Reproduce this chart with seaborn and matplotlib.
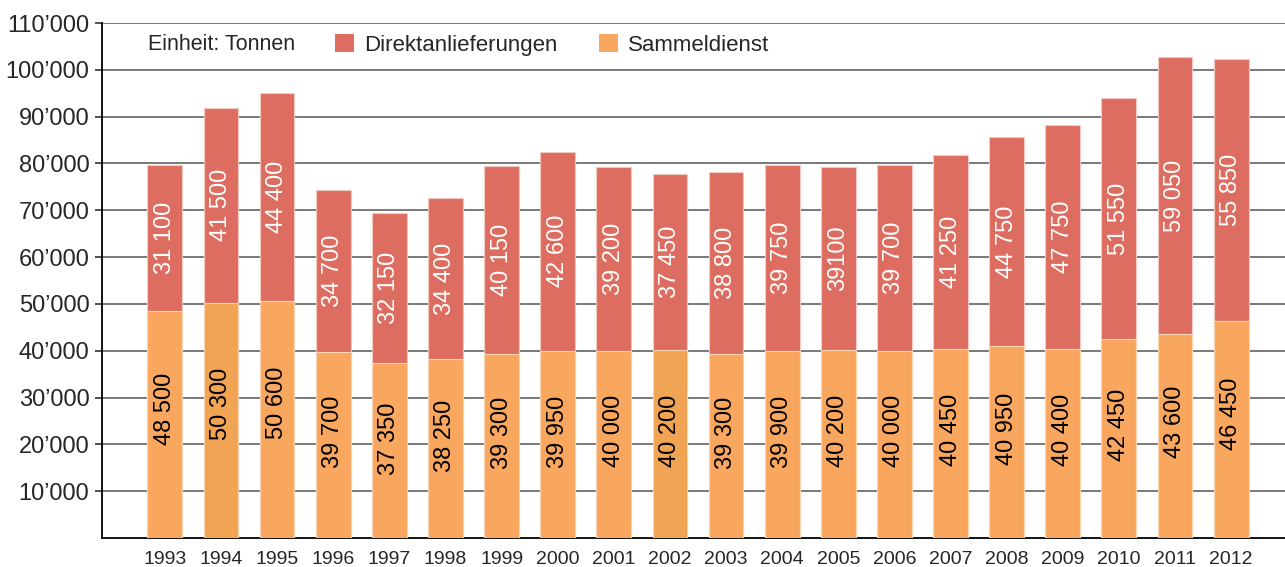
import numpy as np
import pandas as pd
import matplotlib
matplotlib.use("Agg")
import matplotlib.pyplot as plt
from matplotlib.patches import Patch
import seaborn as sns

years = [str(y) for y in range(1993, 2013)]
sammeldienst = [48500, 50300, 50600, 39700, 37350, 38250, 39300, 39950, 40000, 40200,
                39300, 39900, 40200, 40000, 40450, 40950, 40400, 42450, 43600, 46450]
direkt = [31100, 41500, 44400, 34700, 32150, 34400, 40150, 42600, 39200, 37450,
          38800, 39750, 39100, 39700, 41250, 44750, 47750, 51550, 59050, 55850]
direkt_text = ["31 100", "41 500", "44 400", "34 700", "32 150", "34 400", "40 150", "42 600",
               "39 200", "37 450", "38 800", "39 750", "39100", "39 700", "41 250", "44 750",
               "47 750", "51 550", "59 050", "55 850"]
highlight = ["1994", "2002"]

RED = "#DE6D61"
ORANGE = "#F9A75F"
ORANGE_DARK = "#F0A454"

df = pd.DataFrame({"year": years, "sammel": sammeldienst, "direkt": direkt})
df["total"] = df["sammel"] + df["direkt"]

sns.set_style("white")
plt.rcParams["font.family"] = ["Liberation Sans", "DejaVu Sans"]

fig = plt.figure(figsize=(12.85, 5.67), dpi=100)
ax = fig.add_axes([102 / 1285, 29 / 567, 1 - 102 / 1285, (538 - 23) / 567])

# grid below bars
for v in range(10000, 110001, 10000):
    ax.axhline(v, color="#6e6e6e", lw=1.3, zorder=0)

sns.barplot(data=df, x="year", y="total", color=RED, width=0.62, saturation=1,
            edgecolor="#f3c9c2", linewidth=0.8, ax=ax, zorder=2)
pal = {y: (ORANGE_DARK if y in highlight else ORANGE) for y in years}
sns.barplot(data=df, x="year", y="sammel", hue="year", palette=pal, legend=False,
            width=0.62, saturation=1, edgecolor="#fbd6b4", linewidth=0.8, ax=ax, zorder=3)

for i, row in df.iterrows():
    ax.text(i, row["sammel"] * 0.57, f"{row['sammel']:,}".replace(",", " "),
            rotation=90, ha="center", va="center", fontsize=17, color="black", zorder=5)
    ax.text(i, row["sammel"] + row["direkt"] / 2, direkt_text[i],
            rotation=90, ha="center", va="center", fontsize=17, color="white", zorder=5)

ax.set_xlim(-1.12, 19.96)
ax.set_ylim(0, 110000)
yt = list(range(10000, 110001, 10000))
ax.set_yticks(yt)
ax.set_yticklabels([f"{v:,}".replace(",", "\u2019") for v in yt], fontsize=17)
ax.tick_params(axis="y", length=5, width=1.2, color="#333333", pad=4, left=True)
ax.tick_params(axis="x", length=0, pad=9, labelsize=14)
ax.set_xlabel("")
ax.set_ylabel("")

for s in ["top", "right"]:
    ax.spines[s].set_visible(False)
ax.spines["left"].set_color("black")
ax.spines["left"].set_linewidth(1.3)
ax.spines["bottom"].set_color("black")
ax.spines["bottom"].set_linewidth(1.3)

fig.text(148 / 1285, 1 - 45 / 567, "Einheit: Tonnen", fontsize=15.5, va="center", ha="left")
handles = [Patch(facecolor=RED, edgecolor="none"), Patch(facecolor=ORANGE, edgecolor="none")]
ax.legend(handles, ["Direktanlieferungen", "Sammeldienst"], ncol=2, frameon=False,
          fontsize=16, handlelength=0.85, handleheight=0.85, handletextpad=0.45,
          columnspacing=1.9, loc="center left", borderaxespad=0, borderpad=0,
          bbox_to_anchor=(335 / 1285, 1 - 45 / 567), bbox_transform=fig.transFigure)

fig.savefig("out.png", dpi=100)
